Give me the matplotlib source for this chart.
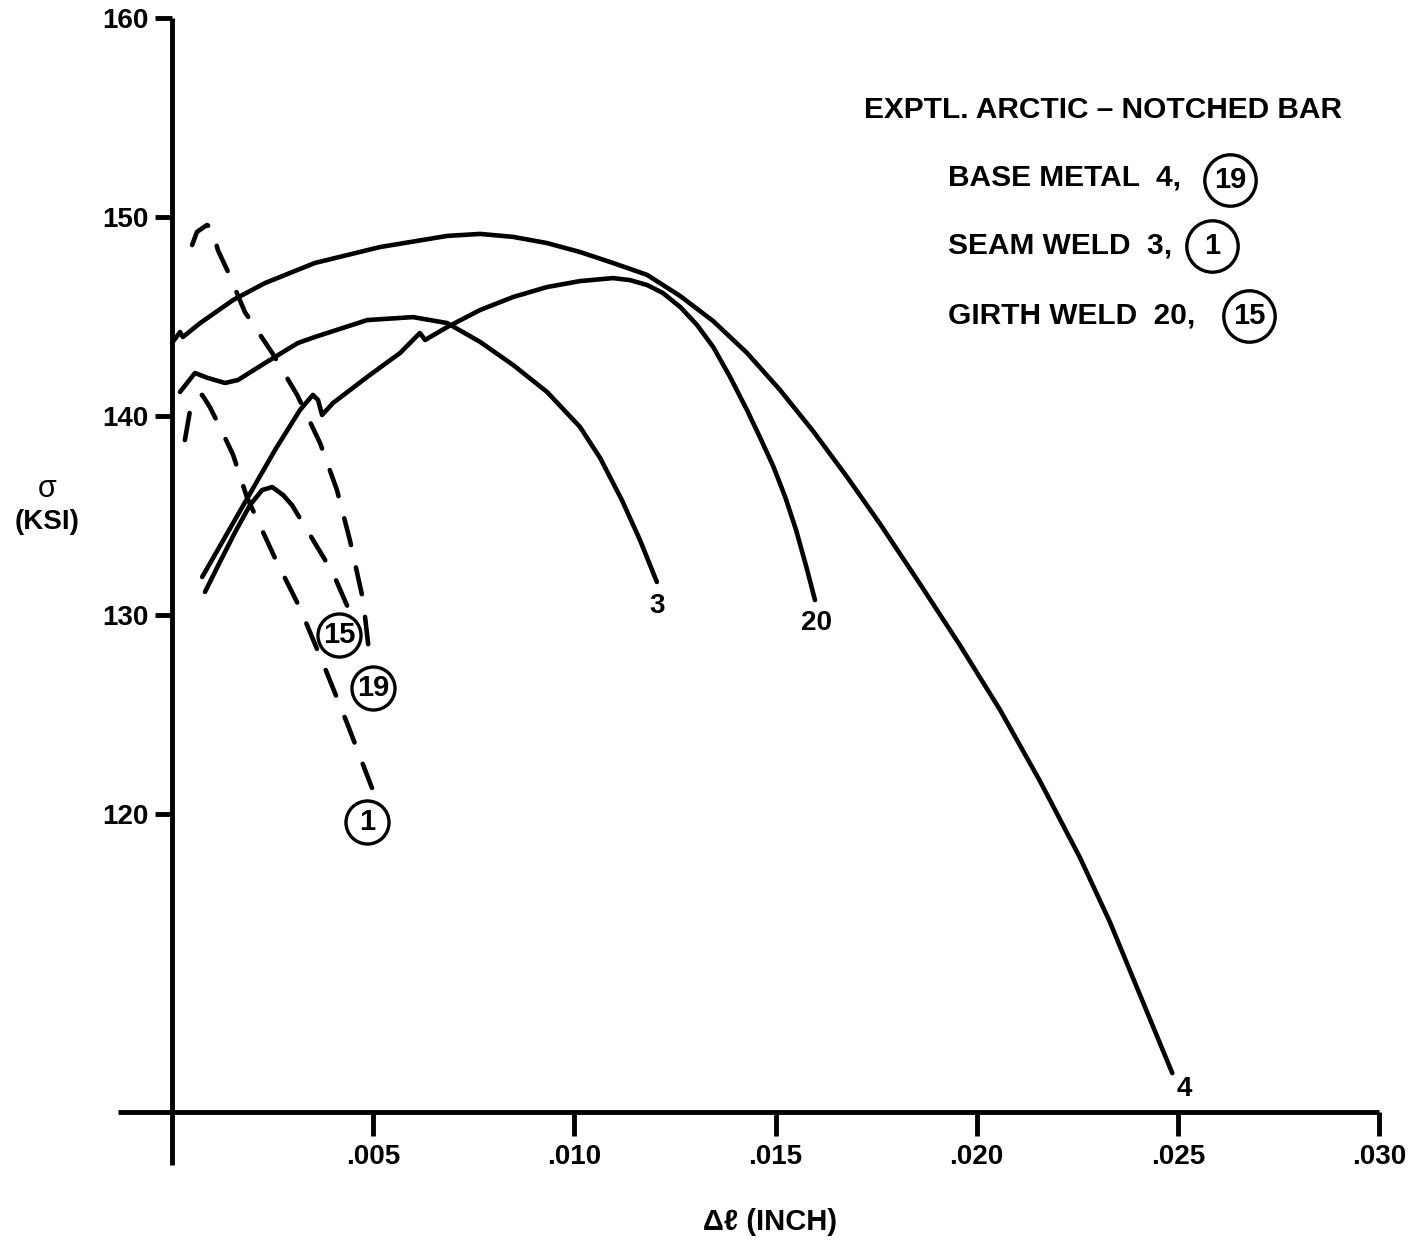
import matplotlib
matplotlib.use("Agg")
import matplotlib.pyplot as plt

plt.rcParams['font.family'] = ['Liberation Sans', 'DejaVu Sans']
plt.rcParams['font.weight'] = 'bold'

# elongation (inch) / stress (ksi) for each notched-bar test
# base metal, specimen 4 (solid)
bm4_x = [0.0, 0.0002, 0.00027, 0.0007, 0.00152, 0.00231, 0.00355, 0.00517, 0.00684,
         0.00766, 0.00848, 0.00932, 0.01014, 0.01096, 0.01181, 0.01263, 0.01345,
         0.01429, 0.01511, 0.01593, 0.01678, 0.0176, 0.01859, 0.01958, 0.02058,
         0.02157, 0.02257, 0.02331, 0.02411, 0.02486]
bm4_y = [143.67, 144.22, 143.97, 144.67, 145.83, 146.68, 147.69, 148.49, 149.05,
         149.15, 149.0, 148.69, 148.24, 147.69, 147.09, 146.03, 144.77,
         143.17, 141.31, 139.25, 136.93, 134.57, 131.56, 128.49, 125.23,
         121.66, 117.79, 114.57, 110.65, 106.98]

# seam weld, specimen 3 (solid)
sw3_x = [0.0002, 0.00057, 0.00089, 0.00132, 0.00164, 0.00231, 0.00313, 0.00355,
         0.00485, 0.00599, 0.00684, 0.00766, 0.00848, 0.00932, 0.01014, 0.01064,
         0.01118, 0.01163, 0.01205]
sw3_y = [141.21, 142.16, 141.91, 141.66, 141.81, 142.66, 143.67, 143.97,
         144.82, 144.97, 144.67, 143.72, 142.56, 141.21, 139.45, 137.89,
         135.78, 133.77, 131.66]

# girth weld, specimen 20 (solid)
gw20_x = [0.00075, 0.00189, 0.00256, 0.00318, 0.0035, 0.00363, 0.00373, 0.004,
          0.00485, 0.00567, 0.00616, 0.00629, 0.00684, 0.00766, 0.00848, 0.00932,
          0.01014, 0.01096, 0.01138, 0.01181, 0.0122, 0.01263, 0.01305, 0.01345,
          0.01387, 0.01429, 0.01461, 0.01494, 0.01524, 0.01551, 0.01576, 0.01598]
gw20_y = [131.91, 135.93, 138.29, 140.3, 141.06, 140.8, 140.05, 140.65,
          141.96, 143.17, 144.17, 143.82, 144.47, 145.33, 145.98, 146.48,
          146.78, 146.93, 146.83, 146.58, 146.18, 145.48, 144.57, 143.47,
          141.96, 140.3, 138.94, 137.49, 135.93, 134.27, 132.46, 130.75]

# base metal, specimen 19 (dashed)
bm19_x = [0.0005, 0.00062, 0.00087, 0.00099, 0.00114, 0.00137, 0.00181, 0.00249,
          0.00311, 0.00368, 0.0041, 0.00442, 0.00475, 0.00492]
bm19_y = [148.59, 149.25, 149.6, 149.45, 148.34, 147.34, 145.23, 143.17,
          141.06, 138.64, 136.28, 133.77, 130.75, 127.74]

# seam weld, specimen 1 (dashed)
sw1_x = [0.00032, 0.00045, 0.00062, 0.00075, 0.00094, 0.00119, 0.00152, 0.00186,
         0.00256, 0.00318, 0.0038, 0.00435, 0.00497]
sw1_y = [138.79, 140.3, 140.95, 141.06, 140.45, 139.45, 138.04, 135.93,
         132.86, 130.35, 127.34, 124.57, 121.31]

# girth weld, specimen 15 (solid rise, dashed after the hump)
gw15_x = [0.00082, 0.00119, 0.00157, 0.00194, 0.00224, 0.00249, 0.00276,
          0.00298, 0.00343, 0.004, 0.00442]
gw15_y = [131.16, 132.66, 134.17, 135.53, 136.28, 136.43, 136.03,
          135.53, 134.02, 132.11, 130.15]
gw15_split = 6

x_ticks = [0.005, 0.010, 0.015, 0.020, 0.025, 0.030]
x_tick_labels = ['.005', '.010', '.015', '.020', '.025', '.030']
y_ticks = [120, 130, 140, 150, 160]

W, H = 1421, 1241
LW = 3.3
DASH = (0, (6.0, 5.0))

fig = plt.figure(figsize=(W / 100, H / 100), dpi=100)
ax = fig.add_axes([0.07857, 0.05544, 0.9061, 0.93807])
ax.set_xlim(-0.0015, 0.0305)
ax.set_ylim(102, 160.5)
ax.patch.set_visible(False)

for s in ['top', 'right']:
    ax.spines[s].set_visible(False)
ax.spines['left'].set_position(('data', 0))
ax.spines['bottom'].set_position(('data', 105))
ax.spines['left'].set_bounds(102.36, 160)
ax.spines['bottom'].set_bounds(-0.00134, 0.030)
for s in ['left', 'bottom']:
    ax.spines[s].set_linewidth(3.5)
    ax.spines[s].set_capstyle('butt')

ax.set_xticks(x_ticks)
ax.set_xticklabels(x_tick_labels)
ax.set_yticks(y_ticks)
ax.tick_params(axis='x', direction='out', length=17, width=3.5, pad=6, labelsize=20)
ax.tick_params(axis='y', direction='out', length=12, width=3.5, pad=5, labelsize=20)

line_kw = dict(color='black', lw=LW, solid_joinstyle='round', solid_capstyle='round',
               clip_on=False)
ax.plot(bm4_x, bm4_y, **line_kw)
ax.plot(sw3_x, sw3_y, **line_kw)
ax.plot(gw20_x, gw20_y, **line_kw)
ax.plot(gw15_x[:gw15_split + 1], gw15_y[:gw15_split + 1], **line_kw)

dash_kw = dict(color='black', lw=LW, linestyle=DASH, dash_capstyle='round', clip_on=False)
ax.plot(bm19_x, bm19_y, **dash_kw)
ax.plot(sw1_x, sw1_y, **dash_kw)
ax.plot(gw15_x[gw15_split:], gw15_y[gw15_split:], **dash_kw)

# end labels on the solid curves
ax.text(sw3_x[-1], sw3_y[-1] - 1.2, '3', ha='center', va='center', fontsize=20)
ax.text(gw20_x[-1] + 0.00005, gw20_y[-1] - 1.15, '20', ha='center', va='center', fontsize=20)
ax.text(bm4_x[-1] + 0.0003, bm4_y[-1] - 0.8, '4', ha='center', va='center', fontsize=20)


def circled(x, y, label, size, transform, fs):
    ax.plot([x], [y], marker='o', ms=size, mfc='white', mec='black', mew=2.4,
            transform=transform, clip_on=False, zorder=5)
    ax.text(x, y, label, ha='center', va='center', fontsize=fs, transform=transform,
            zorder=6)


# circled labels on the dashed curves
circled(0.00415, 129.0, '15', 31, ax.transData, 21)
circled(0.0050, 126.33, '19', 31, ax.transData, 21)
circled(0.00485, 119.6, '1', 31, ax.transData, 21)

# axis titles
fig.text(47 / W, 1 - 489 / H, 'σ', ha='center', va='center', fontsize=22,
         fontweight='normal')
fig.text(47 / W, 1 - 522 / H, '(KSI)', ha='center', va='center', fontsize=20)
fig.text(770 / W, 1 - 1222 / H, 'Δℓ (INCH)', ha='center', va='center', fontsize=21)

# key
fig.text(1103 / W, 1 - 110 / H, 'EXPTL. ARCTIC – NOTCHED BAR', ha='center',
         va='center', fontsize=21.5)
fig.text(948 / W, 1 - 178 / H, 'BASE METAL  4,', ha='left', va='center', fontsize=21.5)
fig.text(948 / W, 1 - 246 / H, 'SEAM WELD  3,', ha='left', va='center', fontsize=21.5)
fig.text(948 / W, 1 - 316 / H, 'GIRTH WELD  20,', ha='left', va='center', fontsize=21.5)
circled(1230 / W, 1 - 180 / H, '19', 37, fig.transFigure, 21)
circled(1212 / W, 1 - 246 / H, '1', 37, fig.transFigure, 21)
circled(1249 / W, 1 - 316 / H, '15', 37, fig.transFigure, 21)

fig.savefig('out.png', dpi=100)
